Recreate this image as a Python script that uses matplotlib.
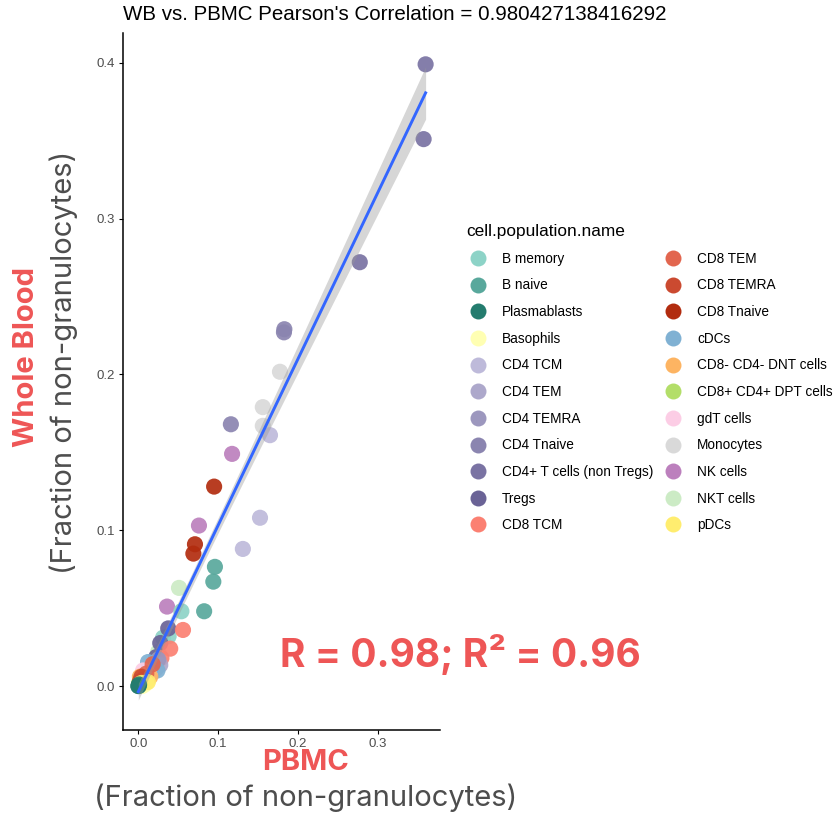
# %% Load libraries
import numpy as np
import matplotlib.pyplot as plt
from matplotlib.lines import Line2D

# %% Data

# legend order and colours
populations = ["B memory", "B naive", "Plasmablasts", "Basophils", "CD4 TCM",
               "CD4 TEM", "CD4 TEMRA", "CD4 Tnaive", "CD4+ T cells (non Tregs)",
               "Tregs", "CD8 TCM", "CD8 TEM", "CD8 TEMRA", "CD8 Tnaive", "cDCs",
               "CD8- CD4- DNT cells", "CD8+ CD4+ DPT cells", "gdT cells",
               "Monocytes", "NK cells", "NKT cells", "pDCs"]
pop_colors = ["#8DD3C7", "#59A89C", "#247C6E", "#FFFFB3", "#BEBADA",
              "#ADA8CB", "#9C97BE", "#8B85B0", "#7A73A3", "#6A6396",
              "#FB8072", "#E2664F", "#CB4A30", "#B22C0F", "#80B1D3",
              "#FDB462", "#B3DE69", "#FCCDE5", "#D9D9D9", "#BC80BD",
              "#CCEBC5", "#FFED6F"]

# one entry per sample point (drawing order)
point_pop = ["CD4+ T cells (non Tregs)"] * 3 + ["CD4 Tnaive"] * 3 + \
    ["Monocytes"] * 3 + ["CD4 TCM"] * 3 + ["NK cells"] * 3 + \
    ["CD8 Tnaive"] * 3 + ["B naive"] * 3 + ["NKT cells"] * 3 + \
    ["B memory"] * 3 + ["Tregs"] * 3 + ["CD8 TCM"] * 3 + ["CD4 TEM"] * 3 + \
    ["CD4 TEMRA"] * 3 + ["cDCs"] * 3 + ["gdT cells"] * 3 + \
    ["CD8- CD4- DNT cells"] * 3 + ["CD8+ CD4+ DPT cells"] * 3 + \
    ["CD8 TEM"] * 3 + ["CD8 TEMRA"] * 3 + ["Basophils"] * 3 + \
    ["pDCs"] * 3 + ["Plasmablasts"] * 3

pbmc = [0.360, 0.3575, 0.2775,
        0.1825, 0.183, 0.116,
        0.1775, 0.156, 0.156,
        0.165, 0.1525, 0.131,
        0.1175, 0.076, 0.036,
        0.095, 0.071, 0.069,
        0.096, 0.094, 0.0825,
        0.051, 0.025, 0.013,
        0.054, 0.031, 0.038,
        0.0375, 0.0275, 0.0225,
        0.056, 0.040, 0.029,
        0.0275, 0.022, 0.018,
        0.025, 0.012, 0.008,
        0.0122, 0.024, 0.008,
        0.006, 0.014, 0.004,
        0.015, 0.002, 0.006,
        0.003, 0.001, 0.002,
        0.018, 0.010, 0.006,
        0.004, 0.008, 0.002,
        0.008, 0.010, 0.005,
        0.012, 0.004, 0.003,
        0.0, 0.001, 0.0005]

wb = [0.399, 0.351, 0.272,
      0.227, 0.229, 0.168,
      0.2017, 0.179, 0.167,
      0.161, 0.108, 0.088,
      0.149, 0.103, 0.051,
      0.128, 0.091, 0.085,
      0.0765, 0.067, 0.048,
      0.063, 0.022, 0.009,
      0.048, 0.031, 0.032,
      0.037, 0.0276, 0.0186,
      0.036, 0.024, 0.018,
      0.0135, 0.011, 0.009,
      0.017, 0.008, 0.005,
      0.0154, 0.010, 0.006,
      0.010, 0.007, 0.003,
      0.006, 0.006, 0.002,
      0.003, 0.002, 0.001,
      0.014, 0.008, 0.004,
      0.006, 0.004, 0.003,
      0.001, 0.002, 0.0,
      0.0026, 0.002, 0.001,
      0.0, 0.001, 0.0]

title_text = "WB vs. PBMC Pearson's Correlation = 0.980427138416292"
annot_text = "R = 0.98; R\u00b2 = 0.96"

# %% Fit (lm with 95% band)
x = np.array(pbmc)
y = np.array(wb)
n = len(x)
slope, icpt = np.polyfit(x, y, 1)
resid = y - (slope * x + icpt)
s = np.sqrt(np.sum(resid ** 2) / (n - 2))
xs = np.linspace(x.min(), x.max(), 100)
ys = slope * xs + icpt
se = s * np.sqrt(1 / n + (xs - x.mean()) ** 2 / np.sum((x - x.mean()) ** 2))
t = 2.0

# %% Figure
red = "#EE5656"
fig = plt.figure(figsize=(8.36, 8.15), dpi=100)
ax = fig.add_axes([0.1471, 0.1043, 0.3792, 0.8552])

cmap = dict(zip(populations, pop_colors))
ax.scatter(x, y, s=135, c=[cmap[p] for p in point_pop], alpha=0.92,
           edgecolors='none', zorder=2)
ax.fill_between(xs, ys - t * se, ys + t * se, color='#999999', alpha=0.4,
                linewidth=0, zorder=3)
ax.plot(xs, ys, color='#3366FF', lw=2.1, zorder=4)

ax.set_xlim(-0.0192, 0.378)
ax.set_ylim(-0.0282, 0.4191)
ax.set_xticks([0.0, 0.1, 0.2, 0.3])
ax.set_yticks([0.0, 0.1, 0.2, 0.3, 0.4])
ax.set_xticklabels(["0.0", "0.1", "0.2", "0.3"])
ax.set_yticklabels(["0.0", "0.1", "0.2", "0.3", "0.4"])
for sp in ['top', 'right']:
    ax.spines[sp].set_visible(False)
for sp in ['left', 'bottom']:
    ax.spines[sp].set_linewidth(1.1)
ax.tick_params(length=3, width=0.8, labelsize=9.5, labelcolor='#4D4D4D',
               pad=3)
for lab in ax.get_xticklabels() + ax.get_yticklabels():
    lab.set_fontfamily('Liberation Sans')

# title
fig.text(123 / 836, 1 - 14 / 815, title_text, fontsize=14.8,
         family='Liberation Sans', ha='left', va='center')

# axis labels
fig.text(306 / 836, 1 - 763 / 815, "PBMC", color=red, fontsize=21,
         fontweight='bold', family='Inter', ha='center', va='center')
fig.text(306 / 836, 1 - 798 / 815, "(Fraction of non-granulocytes)",
         color='#4D4D4D', fontsize=21, family='Inter', ha='center',
         va='center')
fig.text(27 / 836, 1 - 357 / 815, "Whole Blood", color=red, fontsize=21,
         fontweight='bold', family='Inter', ha='center', va='center',
         rotation=90)
fig.text(64 / 836, 1 - 362 / 815, "(Fraction of non-granulocytes)",
         color='#4D4D4D', fontsize=21, family='Inter', ha='center',
         va='center', rotation=90)

# annotation
ax.text(0.1775, 0.02, annot_text, color=red, fontsize=28, fontweight='bold',
        family='Inter', ha='left', va='center', zorder=5)

# legend
handles = [Line2D([], [], ls='none', marker='o', markersize=11.5,
                  markerfacecolor=c, markeredgecolor='none')
           for c in pop_colors]
leg = fig.legend(handles, populations, ncol=2, frameon=False,
                 loc='upper left', bbox_to_anchor=(466 / 836, 1 - 224 / 815),
                 title="cell.population.name", alignment='left',
                 prop={'family': 'Liberation Sans', 'size': 9.8},
                 title_fontproperties={'family': 'Liberation Sans',
                                       'size': 12.4},
                 handlelength=1.75, handletextpad=0.88, columnspacing=0.6,
                 labelspacing=0.93, borderpad=0, borderaxespad=0)

fig.savefig("out.png", dpi=100)
